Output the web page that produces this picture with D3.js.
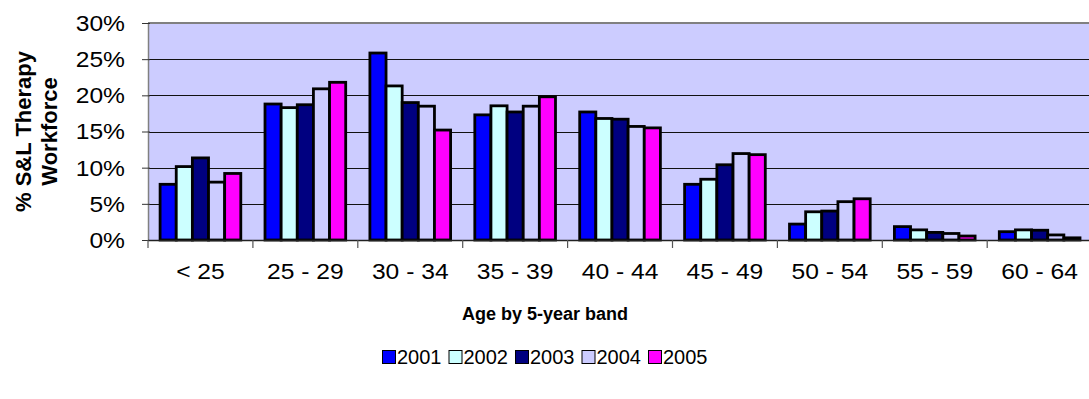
<!DOCTYPE html>
<html>
<head>
<meta charset="utf-8">
<script src="https://cdn.jsdelivr.net/npm/d3@7"></script>
<style>
  html, body { margin: 0; padding: 0; background: #fff; }
  svg { display: block; }
  text { font-family: "Liberation Sans", Arial, sans-serif; fill: #000; }
</style>
</head>
<body>
<svg id="chart" width="1089" height="399"></svg>
<script>
// Share of the S&L therapy workforce by 5-year age band, 2001–2005 (%)
const categories = ["< 25", "25 - 29", "30 - 34", "35 - 39", "40 - 44", "45 - 49", "50 - 54", "55 - 59", "60 - 64"];
const years = ["2001", "2002", "2003", "2004", "2005"];
const values2001 = [7.7, 18.8, 25.85, 17.3, 17.7, 7.7, 2.2, 1.85, 1.15];
const values2002 = [10.15, 18.3, 21.3, 18.55, 16.8, 8.4, 3.9, 1.4, 1.4];
const values2003 = [11.35, 18.7, 19.0, 17.7, 16.7, 10.4, 4.0, 1.05, 1.35];
const values2004 = [8.0, 20.9, 18.5, 18.5, 15.7, 11.95, 5.3, 0.9, 0.7];
const values2005 = [9.2, 21.8, 15.2, 19.8, 15.5, 11.8, 5.7, 0.55, 0.3];
const yTicks = [0, 5, 10, 15, 20, 25, 30];
const yTitle = ["% S&L Therapy", "Workforce"];
const xTitle = "Age by 5-year band";

const seriesValues = [values2001, values2002, values2003, values2004, values2005];
const colors = ["#0000ff", "#ccffff", "#000080", "#ccccff", "#ff00ff"];

const svg = d3.select("#chart");
const plot = { left: 148, top: 23, bottom: 240, catWidth: 104.9 };
plot.right = plot.left + plot.catWidth * categories.length;
const stretch = 1.12; // tick labels are set slightly wide

const x0 = d3.scaleBand().domain(categories).range([plot.left, plot.right]).padding(0);
const barW = x0.bandwidth() / (years.length + 1.5);
const x1 = d3.scaleBand().domain(years)
  .range([barW * 0.75, x0.bandwidth() - barW * 0.75]).padding(0);
const y = d3.scaleLinear().domain([0, 30]).range([plot.bottom, plot.top]);
const color = d3.scaleOrdinal().domain(years).range(colors);

// plot background
svg.append("rect")
  .attr("x", plot.left).attr("y", plot.top)
  .attr("width", plot.right - plot.left).attr("height", plot.bottom - plot.top)
  .attr("fill", "#ccccff");

// horizontal gridlines
svg.append("g").selectAll("line")
  .data(yTicks.filter(t => t > 0 && t < 30))
  .join("line")
  .attr("x1", plot.left).attr("x2", plot.right)
  .attr("y1", d => Math.round(y(d)) + 0.5).attr("y2", d => Math.round(y(d)) + 0.5)
  .attr("stroke", "#111").attr("stroke-width", 1);

// top border of the plot area
svg.append("line")
  .attr("x1", plot.left).attr("x2", plot.right)
  .attr("y1", plot.top).attr("y2", plot.top)
  .attr("stroke", "#808080").attr("stroke-width", 2);

// bars
const groups = svg.append("g").selectAll("g")
  .data(categories.map((c, i) => ({ cat: c, vals: years.map((yr, s) => ({ yr, v: seriesValues[s][i] })) })))
  .join("g")
  .attr("transform", d => `translate(${x0(d.cat)},0)`);

groups.selectAll("rect")
  .data(d => d.vals)
  .join("rect")
  .attr("x", d => x1(d.yr))
  .attr("y", d => y(d.v))
  .attr("width", x1.bandwidth())
  .attr("height", d => y(0) - y(d.v))
  .attr("fill", d => color(d.yr))
  .attr("stroke", "#000")
  .attr("stroke-width", 2.8);

// y axis
const yAxis = svg.append("g")
  .attr("transform", `translate(${plot.left},0)`)
  .call(d3.axisLeft(y).tickValues(yTicks).tickSize(6).tickFormat(() => ""));
yAxis.select(".domain").attr("stroke", "#808080").attr("stroke-width", 1.5).attr("d", `M0.5,${plot.top}V${plot.bottom}`);
yAxis.selectAll(".tick line").attr("stroke", "#333").attr("x2", -6).attr("x1", 2);

yTicks.forEach(t => {
  svg.append("g")
    .attr("transform", `translate(125,${y(t)}) scale(${stretch},1)`)
    .append("text")
    .attr("text-anchor", "end")
    .attr("dy", "0.36em")
    .style("font-size", "22px")
    .text(t + "%");
});

// x axis
const xAxis = svg.append("g")
  .attr("transform", `translate(0,${plot.bottom})`)
  .call(d3.axisBottom(x0).tickSize(0).tickFormat(() => ""));
xAxis.select(".domain").attr("stroke", "#222").attr("stroke-width", 1.5)
  .attr("d", `M${plot.left},0.5H${plot.right}`);

svg.append("g").selectAll("line")
  .data(d3.range(categories.length + 1))
  .join("line")
  .attr("x1", i => plot.left + i * x0.step()).attr("x2", i => plot.left + i * x0.step())
  .attr("y1", plot.bottom).attr("y2", plot.bottom + 8)
  .attr("stroke", "#555").attr("stroke-width", 1.2);

categories.forEach(c => {
  svg.append("g")
    .attr("transform", `translate(${x0(c) + x0.bandwidth() / 2},279) scale(${stretch},1)`)
    .append("text")
    .attr("text-anchor", "middle")
    .style("font-size", "22px")
    .text(c);
});

// axis titles
svg.append("text")
  .attr("x", 545).attr("y", 320)
  .attr("text-anchor", "middle")
  .style("font-size", "18px").style("font-weight", "bold")
  .text(xTitle);

const yt = svg.append("g")
  .attr("transform", `translate(0,${(plot.top + plot.bottom) / 2}) rotate(-90)`);
yTitle.forEach((line, i) => {
  yt.append("text")
    .attr("x", 0).attr("y", 31 + i * 26)
    .attr("text-anchor", "middle")
    .style("font-size", "22px").style("font-weight", "bold")
    .text(line);
});

// legend
const legend = svg.append("g").attr("transform", "translate(382,357)");
let lx = 0;
years.forEach(yr => {
  const item = legend.append("g").attr("transform", `translate(${lx},0)`);
  item.append("rect")
    .attr("x", 0.5).attr("y", -6.5).attr("width", 13).attr("height", 13)
    .attr("fill", color(yr)).attr("stroke", "#000").attr("stroke-width", 1);
  const t = item.append("text").attr("x", 15).attr("dy", "0.36em")
    .style("font-size", "20px").text(yr);
  lx += 15 + t.node().getComputedTextLength() + 7;
});
</script>
</body>
</html>
